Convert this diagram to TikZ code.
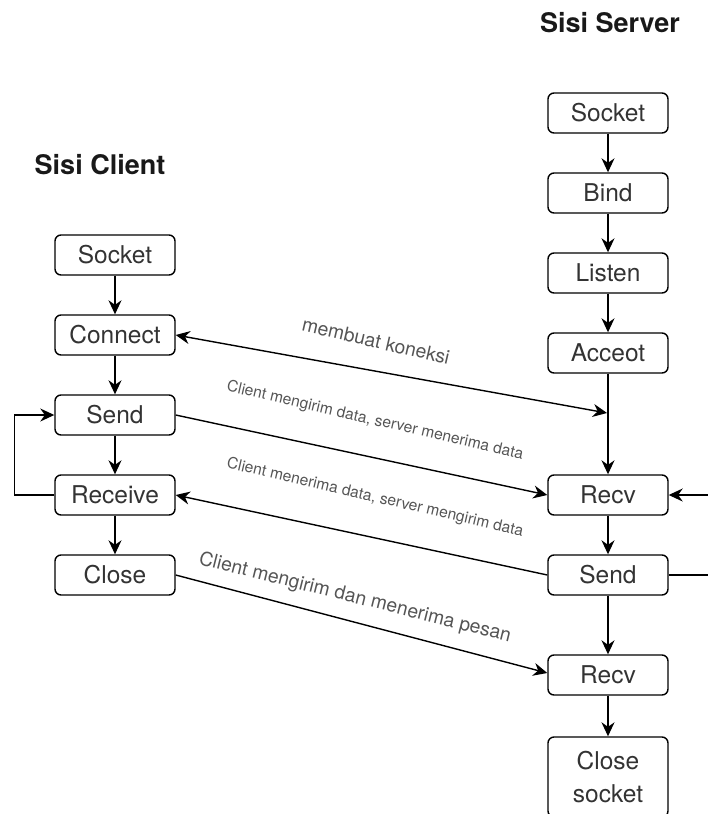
\documentclass[tikz,border=0pt]{standalone}
\usepackage{fontspec}
\setmainfont{TeX Gyre Heros}
\usetikzlibrary{arrows.meta}
\definecolor{boxtext}{HTML}{333333}
\definecolor{labeltext}{HTML}{555555}
\begin{document}
\begin{tikzpicture}[x=1pt,y=-1pt,
  stepbox/.style={draw=black, line width=1.4pt, rounded corners=6pt,
    minimum width=120pt, minimum height=40pt, inner sep=0pt,
    text=boxtext, font=\fontsize{24.5}{28}\selectfont},
  flow/.style={line width=1.4pt, -{Stealth[length=14pt,width=13pt]}},
  link/.style={line width=1.4pt},
  title/.style={font=\fontsize{27}{30}\selectfont\bfseries, text=black!90},
  biglabel/.style={font=\fontsize{19.3}{22}\selectfont, text=labeltext, inner sep=0pt},
  smalllabel/.style={font=\fontsize{15.6}{17}\selectfont, text=labeltext, inner sep=0pt}]
\useasboundingbox (0,0) rectangle (707,814);

% headings
\node[title] (tserver) at (610,23) {Sisi Server};
\node[title] (tclient) at (100,165) {Sisi Client};

% client side
\node[stepbox] (csocket)  at (115,255) {Socket};
\node[stepbox] (cconnect) at (115,335) {Connect};
\node[stepbox] (csend)    at (115,415) {Send};
\node[stepbox] (crecv)    at (115,495) {Receive};
\node[stepbox] (cclose)   at (115,575) {Close};

% server side
\node[stepbox] (ssocket) at (608,113) {Socket};
\node[stepbox] (sbind)   at (608,193) {Bind};
\node[stepbox] (slisten) at (608,273) {Listen};
\node[stepbox] (saccept) at (608,353) {Acceot};
\node[stepbox] (srecv)   at (608,495) {Recv};
\node[stepbox] (ssend)   at (608,575) {Send};
\node[stepbox] (srecvb)  at (608,675) {Recv};
\node[stepbox, minimum height=80pt, align=center, font=\fontsize{24.5}{33}\selectfont]
  (sclose) at (608,777) {Close\\socket};

% vertical flow, client
\draw[flow] (csocket) -- (cconnect);
\draw[flow] (cconnect) -- (csend);
\draw[flow] (csend) -- (crecv);
\draw[flow] (crecv) -- (cclose);
\draw[flow] (crecv.west) -- ++(-40,0) |- (csend.west);

% vertical flow, server
\draw[flow] (ssocket) -- (sbind);
\draw[flow] (sbind) -- (slisten);
\draw[flow] (slisten) -- (saccept);
\draw[flow] (saccept) -- (srecv);
\draw[flow] (srecv) -- (ssend);
\draw[flow] (ssend) -- (srecvb);
\draw[flow] (srecvb) -- (sclose);
\draw[flow] (ssend.east) -- ++(52,0) |- (srecv.east);

% exchanges between the two sides
\coordinate (jn) at (607,413);
\draw[link, {Stealth[length=14pt,width=13pt]}-{Stealth[length=14pt,width=13pt]}]
  (cconnect.east) -- (jn);
\draw[flow] (csend.east) -- (srecv.west);
\draw[flow] (ssend.west) -- (crecv.east);
\draw[flow] (cclose.east) -- ([yshift=2pt]srecvb.west);

% labels
\node[biglabel, rotate=-13] (lkoneksi) at (376,341) {membuat koneksi};
\node[smalllabel, rotate=-13] (lsend) at (375,421) {Client mengirim data, server menerima data};
\node[smalllabel, rotate=-13] (lrecv) at (375,498) {Client menerima data, server mengirim data};
\node[biglabel, rotate=-14] (lpesan) at (355,598) {Client mengirim dan menerima pesan};
\end{tikzpicture}
\end{document}
